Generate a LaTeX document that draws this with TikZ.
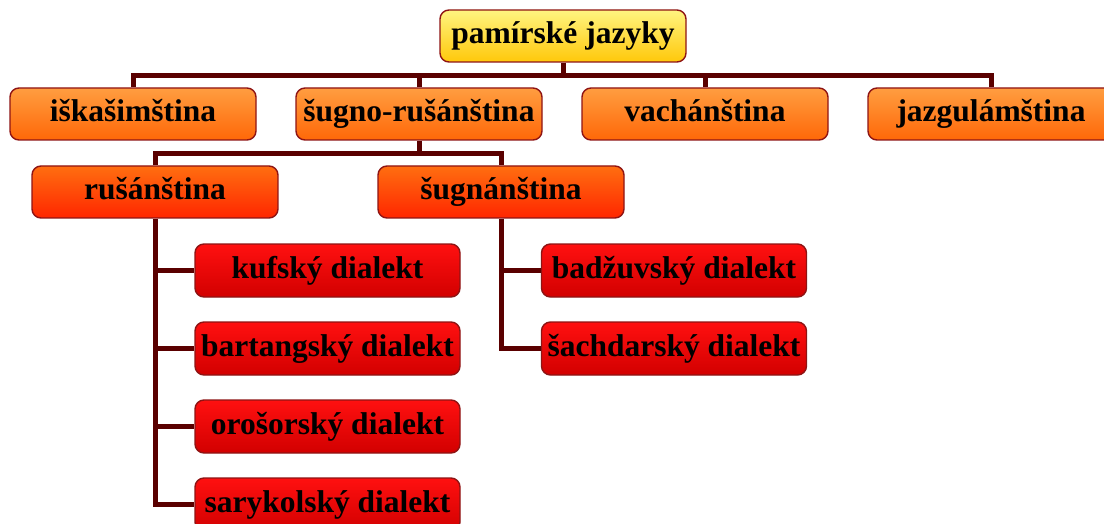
\documentclass[tikz,border=0pt]{standalone}
\usepackage{fontspec}
\setmainfont{Liberation Serif}
\definecolor{linec}{HTML}{5A0000}
\definecolor{bordc}{HTML}{8E1414}
\definecolor{yelT}{HTML}{FFF480}
\definecolor{yelB}{HTML}{FFC80A}
\definecolor{oraT}{HTML}{FF9D40}
\definecolor{oraB}{HTML}{FF6808}
\definecolor{rorT}{HTML}{FF6E10}
\definecolor{rorB}{HTML}{FF2600}
\definecolor{redT}{HTML}{FF1010}
\definecolor{redB}{HTML}{D20000}
\tikzset{
  box/.style={rectangle, rounded corners=9pt, draw=bordc, line width=1.4pt,
    inner sep=0pt, minimum width=246pt, minimum height=52pt,
    font=\fontsize{31.5}{36}\selectfont\bfseries,
    text height=22pt, text depth=7pt},
  lvlone/.style={box, top color=yelT, bottom color=yelB},
  lvltwo/.style={box, top color=oraT, bottom color=oraB},
  lvlthree/.style={box, top color=rorT, bottom color=rorB},
  dial/.style={box, top color=redT, bottom color=redB, minimum width=265pt, minimum height=53pt},
  conn/.style={draw=linec, line width=5pt, line join=miter}
}
\begin{document}
\begin{tikzpicture}[x=1pt,y=-1pt]
\useasboundingbox (0,0) rectangle (1104,524);
\clip (0,0) rectangle (1104,524);
\node[lvlone] (top) at (563,36) {pamírské jazyky};
\node[lvltwo] (isk) at (133,114) {iškašimština};
\node[lvltwo] (sug) at (419,114) {šugno-rušánština};
\node[lvltwo] (vach) at (705,114) {vachánština};
\node[lvltwo] (jaz) at (991,114) {jazgulámština};
\node[lvlthree] (rus) at (155,192) {rušánština};
\node[lvlthree] (sugn) at (501,192) {šugnánština};
\node[dial] (kuf) at (327.5,270.5) {kufský dialekt};
\node[dial] (bar) at (327.5,348.5) {bartangský dialekt};
\node[dial] (oro) at (327.5,426.5) {orošorský dialekt};
\node[dial] (sar) at (327.5,504.5) {sarykolský dialekt};
\node[dial] (bad) at (674,270.5) {badžuvský dialekt};
\node[dial] (sach) at (674,348.5) {šachdarský dialekt};
\coordinate (b1) at (563,75.5);
\coordinate (b2) at (419,153.5);
% level 1 -> 2
\path[conn] (isk.north) |- (b1) -| (jaz.north);
\path[conn] (top.south) -- (b1);
\path[conn] (sug.north) -- (sug.north |- b1);
\path[conn] (vach.north) -- (vach.north |- b1);
% level 2 -> 3
\path[conn] (rus.north) |- (b2) -| (sugn.north);
\path[conn] (sug.south) -- (b2);
% level 3 -> dialects
\path[conn] (rus.south) |- (sar.west);
\path[conn] (rus.south |- kuf.west) -- (kuf.west);
\path[conn] (rus.south |- bar.west) -- (bar.west);
\path[conn] (rus.south |- oro.west) -- (oro.west);
\path[conn] (sugn.south) |- (sach.west);
\path[conn] (sugn.south |- bad.west) -- (bad.west);
\end{tikzpicture}
\end{document}
